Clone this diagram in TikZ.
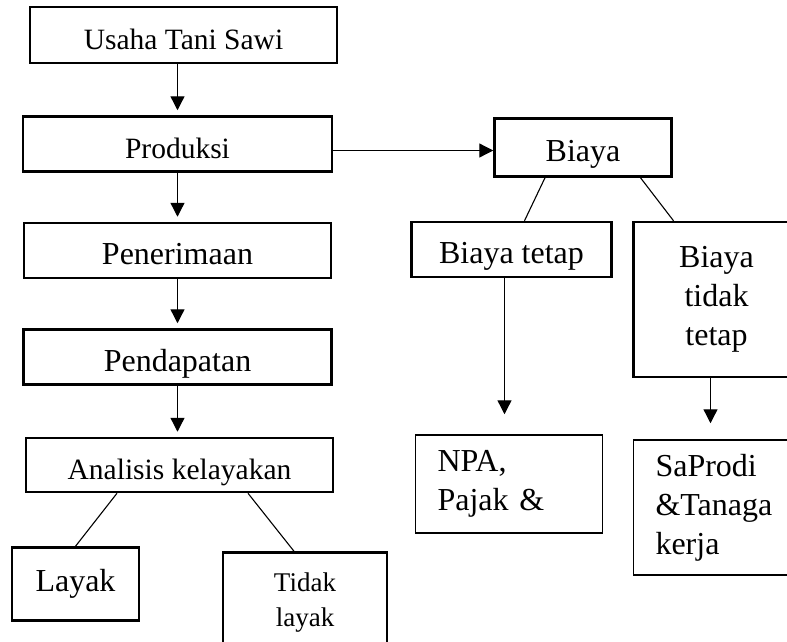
\documentclass[tikz,border=0pt]{standalone}
\usepackage{fontspec}
\setmainfont{Liberation Serif}
\usetikzlibrary{arrows.meta, positioning}

\begin{document}
\begin{tikzpicture}[
  x=1pt, y=-1pt,
  box/.style={draw, line width=2.5pt, inner sep=0pt, align=center, font=\fontsize{32}{39}\selectfont},
  one/.style={text height=28pt, text depth=0pt},
  small/.style={font=\fontsize{29.5}{36}\selectfont},
  arr/.style={-{Triangle[length=14pt, width=14pt]}, line width=1.3pt},
  ln/.style={line width=1.1pt}
]
\useasboundingbox (0,0) rectangle (787,641);
\clip (0,0) rectangle (787,641);

% left column
\node[box, one, small, minimum width=307pt, minimum height=56pt] (usaha) at (183.5,35) {Usaha Tani Sawi};
\node[box, one, small, minimum width=309pt, minimum height=55pt, below=51pt of usaha, xshift=-6pt] (produksi) {Produksi};
\node[box, one, minimum width=307pt, minimum height=55pt, below=49pt of produksi] (terima) {Penerimaan};
\node[box, one, minimum width=308pt, minimum height=55pt, below=49pt of terima] (dapat) {Pendapatan};
\node[box, one, small, minimum width=307pt, minimum height=54pt, below=51pt of dapat, xshift=2pt] (analisis) {Analisis kelayakan};

\node[box, minimum width=127pt, minimum height=73pt, below=53pt of analisis, xshift=-104pt] (layak) {Layak};
\node[box, font=\fontsize{27}{35}\selectfont, line width=2.7pt, minimum width=164pt, minimum height=99pt, below=58pt of analisis, xshift=125.5pt] (tdklayak) {Tidak\\layak};

% right side
\node[box, one, minimum width=177pt, minimum height=58pt, right=160pt of produksi, yshift=-3.5pt] (biaya) {Biaya};
\node[box, one, minimum width=200pt, minimum height=55pt, below=43pt of biaya, xshift=-71.5pt] (tetap) {Biaya tetap};
\node[box, minimum width=166pt, minimum height=155pt, below=43pt of biaya, xshift=133.5pt] (tdktetap) {Biaya\\tidak\\tetap};

\node[box, line width=1.8pt, minimum height=98pt, inner xsep=22pt, text width=143pt, align=left, below=156pt of tetap, xshift=-2.5pt] (npa) {NPA,\\Pajak \&};
\node[box, line width=1.8pt, minimum height=135pt, inner xsep=22pt, text width=122pt, align=left, below=61pt of tdktetap] (saprodi) {SaProdi\\\&Tanaga\\kerja};

% arrows
\draw[arr, shorten >=5pt] (usaha.south -| produksi) -- (produksi);
\draw[arr, shorten >=5pt] (produksi) -- (terima);
\draw[arr, shorten >=5pt] (terima) -- (dapat);
\draw[arr, shorten >=5pt] (dapat) -- (dapat |- analisis.north);
\draw[arr] ([yshift=-6.5pt]produksi.east) -- ([yshift=-6.5pt]produksi.east -| biaya.west);

\draw[ln] ([xshift=-38pt]biaya.south) -- ([xshift=13pt]tetap.north);
\draw[ln] ([xshift=57.5pt]biaya.south) -- ([xshift=-43pt]tdktetap.north);
\draw[ln] ([xshift=-62.5pt]analisis.south) -- (layak.north);
\draw[ln] ([xshift=68.5pt]analisis.south) -- ([xshift=-11pt]tdklayak.north);

\draw[arr, shorten >=20pt] ([xshift=-7pt]tetap.south) -- ([xshift=-7pt]tetap.south |- npa.north);
\draw[arr, shorten >=16pt] ([xshift=-6pt]tdktetap.south) -- ([xshift=-6pt]tdktetap.south |- saprodi.north);
\end{tikzpicture}
\end{document}
